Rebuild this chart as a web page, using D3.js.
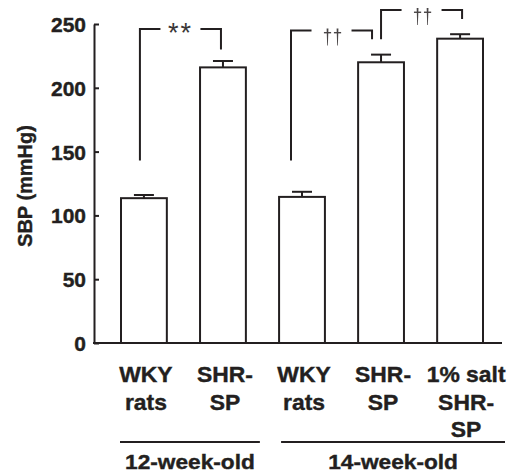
<!DOCTYPE html>
<html>
<head>
<meta charset="utf-8">
<script src="https://cdn.jsdelivr.net/npm/d3@7"></script>
<style>
  body { margin: 0; background: #fff; }
  svg { display: block; }
  text { font-family: "Liberation Sans", Arial, Helvetica, sans-serif; font-weight: bold; fill: #231f20; }
</style>
</head>
<body>
<svg id="chart" width="510" height="473"></svg>
<script>
// data (SBP, mmHg, mean and SEM)
const categories = ["WKY rats 12w", "SHR-SP 12w", "WKY rats 14w", "SHR-SP 14w", "1% salt SHR-SP 14w"];
const catLabels = [["WKY", "rats"], ["SHR-", "SP"], ["WKY", "rats"], ["SHR-", "SP"], ["1% salt", "SHR-", "SP"]];
const means = [113.5, 216, 114.5, 220, 238.5];
const sems = [2.5, 5, 4, 6, 3.5];
const yTicks = [0, 50, 100, 150, 200, 250];
const groupNames = ["12-week-old", "14-week-old"];
const groupFirst = [0, 2];
const groupLast = [1, 4];
// significance brackets: from bar, to bar, mark, top level, left leg end, right leg end
const sigFrom = [0, 2, 3];
const sigTo = [1, 3, 4];
const sigMark = ["**", "\u2020\u2020", "\u2020\u2020"];
const sigTop = [246, 245, 261];
const sigLeftEnd = [143, 143, 238];
const sigRightEnd = [230, 238, 254];

const ink = "#231f20";
const svg = d3.select("#chart");

const x = d3.scaleBand()
    .domain(categories)
    .range([121, 483])
    .paddingInner(0.42)
    .paddingOuter(0);

const y = d3.scaleLinear()
    .domain([0, 250])
    .range([343, 24]);

const cx = i => x(categories[i]) + x.bandwidth() / 2;

// helper for slightly widened, heavy text like the original figure
function label(g, str, tx, ty, size, anchor, sx) {
  return g.append("text")
      .attr("transform", `translate(${tx},${ty}) scale(${sx || 1.05},1)`)
      .attr("text-anchor", anchor || "middle")
      .attr("stroke", ink)
      .attr("stroke-width", 0.4)
      .style("font-size", size + "px")
      .text(str);
}

// thin dagger drawn as a path (the font glyph gets colour fringes)
function dagger(g, px, top) {
  g.append("path")
      .attr("d", `M${px - 0.9},${top}L${px + 0.9},${top}L${px + 0.35},${top + 17}L${px - 0.35},${top + 17}Z`)
      .attr("fill", "#4a4647");
  g.append("rect")
      .attr("x", px - 3.6).attr("y", top + 3.6)
      .attr("width", 7.2).attr("height", 1.4)
      .attr("fill", "#4a4647");
}

// y axis
const yAxis = svg.append("g")
    .attr("transform", "translate(94,0)")
    .call(d3.axisLeft(y).tickValues(yTicks).tickSize(-5).tickSizeOuter(0).tickPadding(8));
yAxis.selectAll("path, line").attr("stroke", ink).attr("stroke-width", 2);
yAxis.selectAll("text")
    .style("font-size", "21px")
    .attr("x", -8)
    .attr("dy", "0.36em")
    .attr("font-family", null)
    .attr("font-size", null)
    .attr("stroke", ink)
    .attr("stroke-width", 0.4)
    .attr("fill", ink);

// baseline
svg.append("line")
    .attr("x1", 93).attr("x2", 502)
    .attr("y1", y(0)).attr("y2", y(0))
    .attr("stroke", ink).attr("stroke-width", 2);

// bars
svg.append("g")
  .selectAll("rect").data(means).enter()
    .append("rect")
    .attr("x", (d, i) => x(categories[i]))
    .attr("y", d => y(d))
    .attr("width", x.bandwidth())
    .attr("height", d => y(0) - y(d))
    .attr("fill", "#fff")
    .attr("stroke", ink)
    .attr("stroke-width", 2);

// error bars (upper only)
const eb = svg.append("g").attr("stroke", ink).attr("stroke-width", 2);
means.forEach((m, i) => {
  eb.append("line")
      .attr("x1", cx(i)).attr("x2", cx(i))
      .attr("y1", y(m)).attr("y2", y(m + sems[i]));
  eb.append("line")
      .attr("x1", cx(i) - 10).attr("x2", cx(i) + 10)
      .attr("y1", y(m + sems[i])).attr("y2", y(m + sems[i]));
});

// significance brackets
const legShift = [[-4, -2], [-11, -9], [0, 2]];
const br = svg.append("g");
sigMark.forEach((mark, k) => {
  const xl = cx(sigFrom[k]) + legShift[k][0];
  const xr = cx(sigTo[k]) + legShift[k][1];
  const yt = y(sigTop[k]);
  const mid = (xl + xr) / 2;
  const gap = 20;
  br.append("path")
      .attr("d", `M${xl},${y(sigLeftEnd[k])}V${yt}H${mid - gap}M${mid + gap},${yt}H${xr}V${y(sigRightEnd[k])}`)
      .attr("fill", "none")
      .attr("stroke", ink)
      .attr("stroke-width", 2);
  if (mark === "**") {
    br.append("text")
        .attr("x", mid).attr("y", yt + 13)
        .attr("text-anchor", "middle")
        .attr("letter-spacing", 2)
        .style("font-weight", "normal")
        .style("font-size", "27px")
        .style("fill", "#3a3637")
        .text(mark);
  } else {
    // the daggers, kept as title text for the mark and drawn as paths
    br.append("title").text(mark);
    dagger(br, mid - 4, yt - 2);
    dagger(br, mid + 6, yt - 2);
  }
});

// category labels
const cl = svg.append("g");
catLabels.forEach((lines, i) => {
  lines.forEach((t, j) => {
    label(cl, t, cx(i) + (i === 4 ? 6 : 2), 382 + j * 27.5, 22, "middle", 1.04);
  });
});

// age groups
const gg = svg.append("g");
const groupPad = [[-1, 14], [2, 22]];
groupNames.forEach((name, k) => {
  const x1 = x(categories[groupFirst[k]]) + groupPad[k][0];
  const x2 = x(categories[groupLast[k]]) + x.bandwidth() + groupPad[k][1];
  gg.append("line")
      .attr("x1", x1).attr("x2", x2)
      .attr("y1", 442).attr("y2", 442)
      .attr("stroke", ink).attr("stroke-width", 2);
  label(gg, name, (x1 + x2) / 2, 469, 21, "middle", 1.08);
});

// y axis title
svg.append("text")
    .attr("transform", "translate(32,186) rotate(-90)")
    .attr("text-anchor", "middle")
    .attr("stroke", ink)
    .attr("stroke-width", 0.4)
    .style("font-size", "20px")
    .text("SBP (mmHg)");
</script>
</body>
</html>
